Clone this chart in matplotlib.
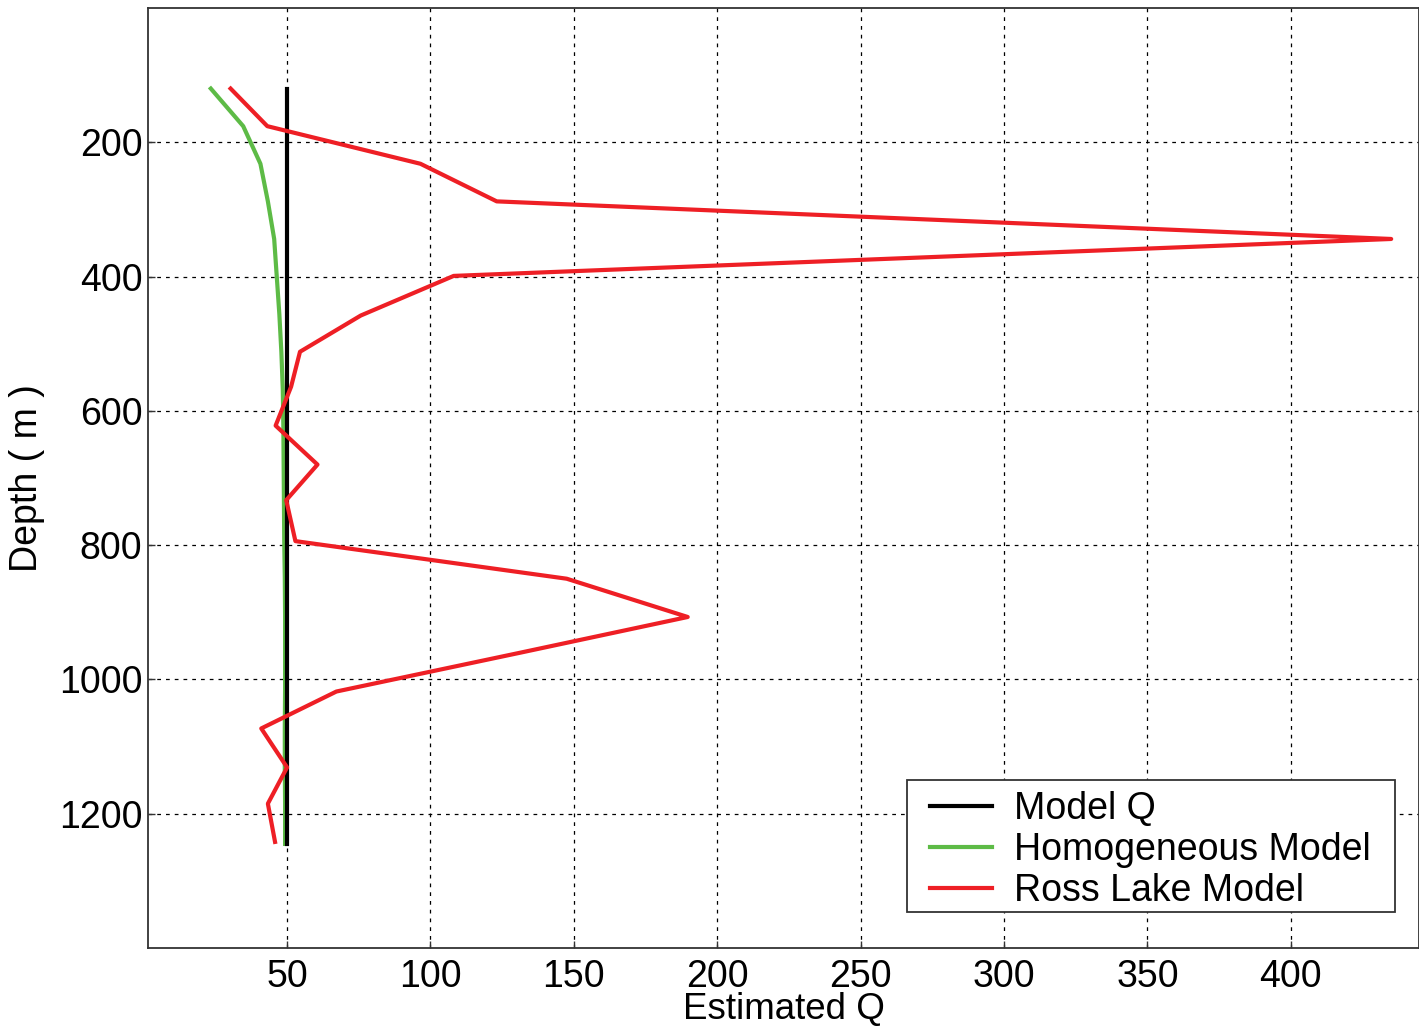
import matplotlib
matplotlib.use("Agg")
import matplotlib.pyplot as plt
from matplotlib.patches import Rectangle

plt.rcParams['font.family'] = ['Liberation Sans', 'DejaVu Sans']

# Model Q (constant)
model_depth = [120, 1245]
model_q = [50, 50]

# Homogeneous model
homog_depth = [120, 176, 232, 288, 344, 400, 456, 512, 568, 624, 680, 736,
               792, 848, 904, 960, 1016, 1072, 1128, 1184, 1245]
homog_q = [23.4, 34.7, 40.7, 43.3, 45.5, 46.4, 47.3, 48.0, 48.5, 48.7, 48.8,
           48.9, 49.0, 49.2, 49.3, 49.3, 49.3, 49.2, 49.2, 49.3, 49.3]

# Ross Lake model
ross_depth = [120, 176, 232, 288, 344, 399, 458, 512, 564, 622, 680, 733,
              794, 850, 907, 960, 1018, 1073, 1131, 1185, 1242]
ross_q = [30.3, 43.1, 96.5, 123.1, 435.0, 108.1, 75.7, 54.5, 51.4, 46.0,
          60.6, 49.7, 52.9, 147.5, 189.7, 131.5, 67.2, 41.0, 50.0, 43.3, 45.8]

xticks = [50, 100, 150, 200, 250, 300, 350, 400]
yticks = [200, 400, 600, 800, 1000, 1200]

FS = 27

fig = plt.figure(figsize=(14.19, 10.27), dpi=100)
ax = fig.add_axes([148/1419, 1 - 948/1027, (1419 - 148)/1419, (948 - 8)/1027])

ax.plot(model_q, model_depth, color='black', lw=3.0, label='Model Q', zorder=3)
ax.plot(homog_q, homog_depth, color='#5dbb46', lw=3.0, label='Homogeneous Model', zorder=2)
ax.plot(ross_q, ross_depth, color='#ee1f25', lw=3.0, label='Ross Lake Model', zorder=4)

ax.set_xlim(1.5, 444.7)
ax.set_ylim(1400, 0)
ax.set_xticks(xticks)
ax.set_yticks(yticks)
ax.tick_params(direction='in', length=5, width=1, labelsize=FS,
               color='#333333')
ax.tick_params(axis='x', pad=8)
ax.tick_params(axis='y', pad=4)
ax.grid(True, color='black', linestyle=(0, (3, 4)), linewidth=0.9)
for s in ax.spines.values():
    s.set_color('#333333')
    s.set_linewidth(1.3)

ax.set_xlabel('Estimated Q', fontsize=26.5, labelpad=-2)
ax.set_ylabel('Depth ( m )', fontsize=FS, labelpad=10)

# legend frame drawn as a box in axes coordinates
x0 = (907 - 148) / 1271
x1 = (1395 - 148) / 1271
y0 = (948 - 912) / 940
y1 = (948 - 780) / 940
ax.add_patch(Rectangle((x0, y0), x1 - x0, y1 - y0, transform=ax.transAxes,
                       facecolor='white', edgecolor='#333333', lw=1.3,
                       zorder=4.9, clip_on=False))

leg = ax.legend(loc='lower left', bbox_to_anchor=((927 - 148) / 1271, y0),
                borderaxespad=0, fontsize=FS, frameon=False,
                handlelength=1.65, handletextpad=0.6, borderpad=0.08,
                labelspacing=0.13)
leg.set_zorder(5)

fig.savefig('out.png', dpi=100)
